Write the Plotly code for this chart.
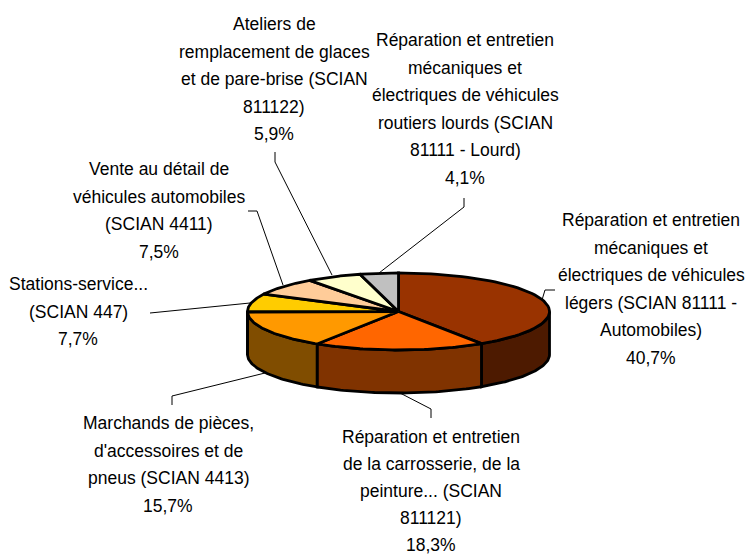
import numpy as np
import plotly.graph_objects as go

labels = [
    ["Réparation et entretien", "mécaniques et", "électriques de véhicules", "légers (SCIAN 81111 -", "Automobiles)"],
    ["Réparation et entretien", "de la carrosserie, de la", "peinture... (SCIAN", "811121)"],
    ["Marchands de pièces,", "d'accessoires et de", "pneus (SCIAN 4413)"],
    ["Stations-service...", "(SCIAN 447)"],
    ["Vente au détail de", "véhicules automobiles", "(SCIAN 4411)"],
    ["Ateliers de", "remplacement de glaces", "et de pare-brise (SCIAN", "811122)"],
    ["Réparation et entretien", "mécaniques et", "électriques de véhicules", "routiers lourds (SCIAN", "81111 - Lourd)"],
]
values = [40.7, 18.3, 15.7, 7.7, 7.5, 5.9, 4.1]
top_colors = ["#993300", "#FF6600", "#FF9900", "#FFCC00", "#FFCC99", "#FFFFCC", "#C0C0C0"]
side_colors = ["#4D1A00", "#803300", "#804D00", "#806600", "#80664D", "#808066", "#606060"]

label_x = [651, 431, 168, 78, 159, 274, 465]
label_y = [220, 437, 423, 284, 169, 24, 40]
line_pitch = [27.6, 27, 27.5, 27.5, 27.5, 27.5, 27.6]
leaders = [
    ([555, 545, 542], [290, 290, 300]),
    ([400, 431, 431], [393, 409, 418]),
    ([265, 172, 172], [373, 396, 405]),
    ([250, 150], [303, 313]),
    ([283, 257, 248], [285, 211, 211]),
    ([332, 275, 275], [275, 162, 152]),
    ([379, 464, 464], [273, 207, 198]),
]

CX, CY, RX, RY, DEPTH = 398.5, 311.5, 151, 38.5, 43


def rim(a0, a1, n=60):
    t = np.radians(np.linspace(a0, a1, n))
    return CX + RX * np.sin(t), CY - RY * np.cos(t)


edges = np.concatenate([[0], np.cumsum(values) / sum(values) * 360])
fig = go.Figure()
outline = dict(color="black", width=2.8)

# side walls of the front half
for i in range(len(values)):
    a0, a1 = max(edges[i], 90), min(edges[i + 1], 270)
    if a0 >= a1:
        continue
    x, y = rim(a0, a1)
    fig.add_trace(go.Scatter(
        x=np.concatenate([x, x[::-1], x[:1]]),
        y=np.concatenate([y, y[::-1] + DEPTH, y[:1]]),
        mode="lines", fill="toself", fillcolor=side_colors[i], line=outline,
        hoverinfo="skip", showlegend=False))

# top face
for i in range(len(values)):
    x, y = rim(edges[i], edges[i + 1])
    fig.add_trace(go.Scatter(
        x=np.concatenate([[CX], x, [CX]]),
        y=np.concatenate([[CY], y, [CY]]),
        mode="lines", fill="toself", fillcolor=top_colors[i], line=outline,
        hoverinfo="skip", showlegend=False))

# leader lines
for lx, ly in leaders:
    fig.add_trace(go.Scatter(x=lx, y=ly, mode="lines", line=dict(color="black", width=1),
                             hoverinfo="skip", showlegend=False))

for lines, v, x, y, pitch in zip(labels, values, label_x, label_y, line_pitch):
    pct = f"{v:.1f}".replace(".", ",") + "%"
    for k, line in enumerate(lines + [pct]):
        fig.add_annotation(x=x, y=y + k * pitch, xanchor="center", yanchor="middle",
                           text=line, showarrow=False,
                           font=dict(family="Liberation Sans", size=17.5, color="black"))

fig.update_layout(
    width=748, height=555, margin=dict(l=0, r=0, t=0, b=0),
    paper_bgcolor="white", plot_bgcolor="white", showlegend=False,
    xaxis=dict(range=[0, 748], visible=False, fixedrange=True),
    yaxis=dict(range=[555, 0], visible=False, fixedrange=True),
)
fig.write_html("out.html", config={"displayModeBar": False},
               post_script="document.body.style.margin='0';document.documentElement.style.overflow='hidden';")
